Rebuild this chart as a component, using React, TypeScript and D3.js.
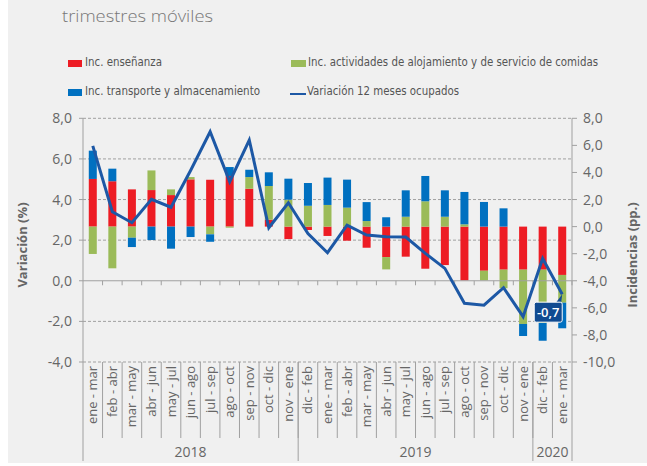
import React from "react";
import * as d3 from "d3";

const categories = [
  "ene - mar", "feb - abr", "mar - may", "abr - jun", "may - jul", "jun - ago",
  "jul - sep", "ago - oct", "sep - nov", "oct - dic", "nov - ene",
  "dic - feb", "ene - mar ", "feb - abr ", "mar - may ", "abr - jun ", "may - jul ",
  "jun - ago ", "jul - sep ", "ago - oct ", "sep - nov ", "oct - dic ", "nov - ene ",
  "dic - feb ", "ene - mar  ",
];
const yearLabels = ["2018", "2019", "2020"];
const yearSpans = [11, 12, 2];

// incidencias (pp.) - eje derecho
const ensenanza = [3.52, 3.35, 2.75, 2.7, 2.33, 3.49, 3.46, 3.74, 2.8, 0.51, -0.92, -0.25, -0.69, -1.04, -1.56, -2.25, -2.22, -3.11, -2.84, -3.97, -3.26, -3.18, -3.18, -3.18, -3.57];
const alojamiento = [-2.02, -3.08, -0.82, 1.45, 0.42, 0.17, -0.57, -0.08, 0.86, 2.49, 1.99, 1.54, 1.6, 1.4, 0.41, -0.91, 0.73, 1.87, 0.73, 0.17, -0.71, -1.37, -4.01, -3.94, -2.05];
const transporte = [2.09, 0.93, -0.69, -0.99, -1.63, -0.77, -0.55, 0.66, 0.54, 1.01, 1.55, 1.68, 2.02, 2.07, 1.4, 0.69, 1.95, 1.87, 1.95, 2.39, 1.82, 1.35, -0.89, -1.31, -1.89];
// variación 12 meses (%) - eje izquierdo
const variacion = [6.64, 3.4, 2.86, 4.01, 3.62, 5.43, 7.34, 4.88, 6.93, 2.61, 3.84, 2.33, 1.38, 2.74, 2.25, 2.17, 2.15, 1.35, 0.61, -1.11, -1.2, -0.34, -1.77, 1.1, -0.66];

const leftTicks = [8, 6, 4, 2, 0, -2, -4];
const rightTicks = [8, 6, 4, 2, 0, -2, -4, -6, -8, -10];

const RED = "#ed1c24";
const GREEN = "#9bbb59";
const BLUE = "#0070c0";
const LINE = "#1d58a5";
const GRAY = "#666";
const AXIS = "#a0a0a0";
const TICKFONT = "'Open Sans', 'Noto Sans', sans-serif";
const NARROW = "'Liberation Sans Narrow', 'DejaVu Sans Condensed', 'Roboto', sans-serif";

const fmt = (v: number) => d3.format(".1f")(v).replace(".", ",").replace("−", "-");

export default function App() {
  const left = 83, right = 572, top = 118.3, bottom = 362;
  const x = d3.scaleBand<string>().domain(categories).range([left, right]);
  const bw = x.bandwidth();
  const barW = 8;
  const yL = d3.scaleLinear().domain([-4, 8]).range([bottom, top]);
  const yR = d3.scaleLinear().domain([-10, 8]).range([bottom, top]);

  const rows = categories.map((c, i) => ({ cat: c, ens: ensenanza[i], alo: alojamiento[i], tra: transporte[i] }));
  const keys = ["ens", "alo", "tra"];
  const colors: Record<string, string> = { ens: RED, alo: GREEN, tra: BLUE };
  const series = d3.stack<any>().keys(keys).offset(d3.stackOffsetDiverging)(rows);

  const line = d3
    .line<number>()
    .x((d, i) => (x(categories[i]) as number) + bw / 2)
    .y((d) => yL(d));

  const lastI = categories.length - 1;
  const px = (x(categories[lastI]) as number) + bw / 2;
  const py = yL(variacion[lastI]);

  // separadores de años
  let acc = 0;
  const yearBounds = yearSpans.map((n) => {
    const s = acc;
    acc += n;
    return [s, acc];
  });

  return (
    <svg width={647} height={466} style={{ position: "absolute", left: 0, top: 0 }}>
      <rect x={8} y={0} width={639} height={463} fill="#f0f0f0" />

      <text x={62} y={22} fontFamily={TICKFONT} fontSize={17} fill="#777" fontWeight={300} textLength={151} lengthAdjust="spacingAndGlyphs">
        trimestres móviles
      </text>

      {/* leyenda */}
      <g fontFamily={NARROW} fontSize={13} fill="#555">
        <rect x={68} y={60} width={14} height={7} fill={RED} />
        <text x={85} y={66} textLength={77} lengthAdjust="spacingAndGlyphs">Inc. enseñanza</text>
        <rect x={291} y={60} width={15} height={7} fill={GREEN} />
        <text x={308} y={66} textLength={290} lengthAdjust="spacingAndGlyphs">Inc. actividades de alojamiento y de servicio de comidas</text>
        <rect x={68} y={89} width={14} height={7} fill={BLUE} />
        <text x={85} y={95} textLength={175} lengthAdjust="spacingAndGlyphs">Inc. transporte y almacenamiento</text>
        <line x1={290} x2={306} y1={94} y2={94} stroke={LINE} strokeWidth={2} />
        <text x={307} y={95} textLength={152} lengthAdjust="spacingAndGlyphs">Variación 12 meses ocupados</text>
      </g>

      {/* rejilla */}
      {leftTicks.filter((t) => t !== 0).map((t) => (
        <line key={"g" + t} x1={left} x2={right} y1={yL(t)} y2={yL(t)} stroke={AXIS} strokeDasharray="3,2" />
      ))}

      {/* barras */}
      {series.map((s) => (
        <g key={s.key} fill={colors[s.key]}>
          {s.map((d, i) => (
            <rect
              key={i}
              x={(x(categories[i]) as number) + bw / 2 - barW / 2}
              y={yR(d[1])}
              width={barW}
              height={Math.max(0, yR(d[0]) - yR(d[1]))}
            />
          ))}
        </g>
      ))}

      {/* eje x en cero */}
      <line x1={left} x2={right} y1={yL(0)} y2={yL(0)} stroke={AXIS} />
      {categories.map((c, i) => (
        <line key={"t" + i} x1={(x(c) as number) + bw} x2={(x(c) as number) + bw} y1={yL(0)} y2={yL(0) + 4.5} stroke={AXIS} />
      ))}

      {/* línea */}
      <path d={line(variacion) as string} fill="none" stroke={LINE} strokeWidth={3} />

      {/* etiqueta último valor */}
      <g>
        <path d={`M${px - 6},${py + 8} L${px},${py} L${px - 1},${py + 8} Z`} fill="#114b91" />
        <rect x={px - 28} y={py + 8} width={28} height={20} rx={2} fill="#114b91" stroke="#fff" strokeWidth={1} />
        <text x={px - 14} y={py + 23} textAnchor="middle" fontFamily={TICKFONT} fontSize={13} fontWeight={600} fill="#fff">
          {fmt(variacion[lastI])}
        </text>
      </g>

      {/* ejes */}
      <line x1={left} x2={left} y1={top} y2={461} stroke={AXIS} />
      <line x1={right} x2={right} y1={top} y2={461} stroke={AXIS} />
      <g fontFamily={TICKFONT} fontSize={14} fill={GRAY}>
        {leftTicks.map((t) => (
          <g key={"l" + t}>
            <line x1={left - 4} x2={left} y1={yL(t)} y2={yL(t)} stroke={AXIS} />
            <text x={72} y={yL(t) + 5} textAnchor="end">{fmt(t)}</text>
          </g>
        ))}
        {rightTicks.map((t) => (
          <g key={"r" + t}>
            <line x1={right} x2={right + 5} y1={yR(t)} y2={yR(t)} stroke={AXIS} />
            <text x={583} y={yR(t) + 5}>{fmt(t)}</text>
          </g>
        ))}
      </g>

      {/* etiquetas de categorías */}
      <g fontFamily={TICKFONT} fontSize={13} fill={GRAY}>
        {categories.map((c, i) => {
          const cx = (x(c) as number) + bw / 2;
          return (
            <text key={"c" + i} transform={`translate(${cx + 4.5},366) rotate(-90)`} textAnchor="end">
              {c.trim()}
            </text>
          );
        })}
        {categories.map((c, i) =>
          i === 0 ? null : (
            <line key={"s" + i} x1={x(c) as number} x2={x(c) as number} y1={bottom} y2={438} stroke={AXIS} />
          )
        )}
        {yearBounds.map(([s, e], j) => (
          <g key={"y" + j}>
            {e < categories.length && (
              <line x1={x(categories[e]) as number} x2={x(categories[e]) as number} y1={bottom} y2={461} stroke={AXIS} />
            )}
            <text
              x={((x(categories[s]) as number) + (x(categories[e - 1]) as number) + bw) / 2}
              y={457}
              textAnchor="middle"
              fontSize={14}
            >
              {yearLabels[j]}
            </text>
          </g>
        ))}
      </g>

      {/* títulos de ejes */}
      <g fontFamily={TICKFONT} fontSize={13} fontWeight={700} fill={GRAY}>
        <text transform="translate(27,245) rotate(-90)" textAnchor="middle">Variación (%)</text>
        <text transform="translate(637,255) rotate(-90)" textAnchor="middle">Incidencias (pp.)</text>
      </g>
    </svg>
  );
}
